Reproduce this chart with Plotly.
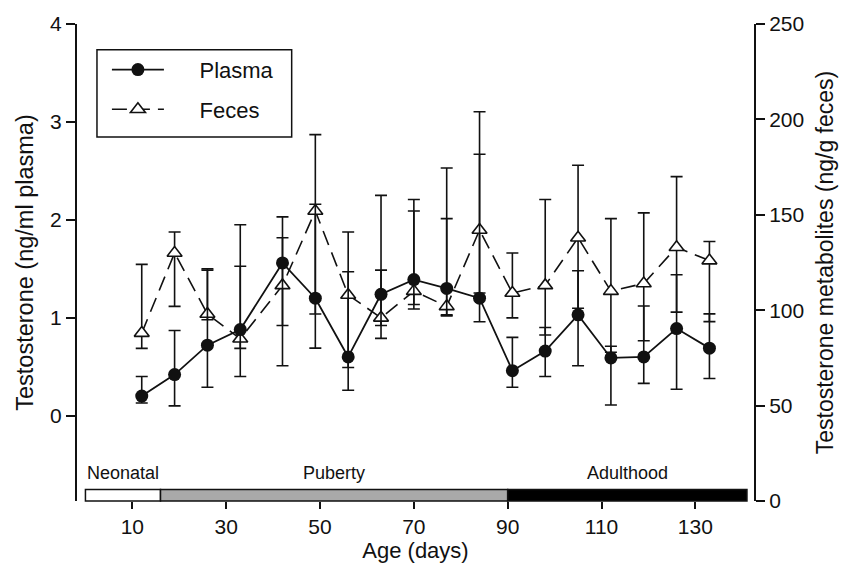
import plotly.graph_objects as go

# ---- data ----
days = [12, 19, 26, 33, 42, 49, 56, 63, 70, 77, 84, 91, 98, 105, 112, 119, 126, 133]

plasma = [0.20, 0.42, 0.72, 0.88, 1.56, 1.20, 0.60, 1.24, 1.39, 1.30, 1.20, 0.46,
          0.66, 1.03, 0.59, 0.60, 0.89, 0.69]
plasma_hi = [0.40, 0.87, 1.50, 1.95, 2.03, 2.16, 1.47, 2.25, 2.09, 2.53, 2.67, 0.80,
             0.90, 1.48, 0.71, 1.12, 1.44, 1.04]
plasma_lo = [0.13, 0.10, 0.29, 0.40, 0.51, 0.69, 0.26, 0.79, 1.09, 1.03, 0.96, 0.29,
             0.40, 0.51, 0.11, 0.33, 0.27, 0.38]

feces = [88, 130, 98, 85, 113, 152, 108, 96, 110, 102, 142, 109,
         113, 138, 110, 114, 133, 126]
feces_hi = [124, 141, 121, 123, 138, 192, 141, 121, 158, 148, 204, 130,
            158, 176, 148, 151, 170, 136]
feces_lo = [80, 102, 95, 80, 92, 98, 70, 92, 103, 97, 109, 96,
            87, 101, 78, 84, 99, 94]

phase_names = ["Neonatal", "Puberty", "Adulthood"]
phase_start = [0, 16, 90]
phase_end = [16, 90, 141]
phase_colors = ["#ffffff", "#a9a9a9", "#000000"]

x_ticks = [10, 30, 50, 70, 90, 110, 130]
left_ticks = [0, 1, 2, 3, 4]
right_ticks = [0, 50, 100, 150, 200, 250]

FONT = "Liberation Sans, Arial, sans-serif"
INK = "#111111"
PAD = "\u00a0" * 5

fig = go.Figure()

fig.add_trace(go.Scatter(
    x=days, y=plasma, yaxis="y2", name=PAD + "Plasma",
    mode="lines+markers",
    line=dict(color=INK, width=1.8),
    marker=dict(symbol="circle", size=13, color=INK),
    error_y=dict(type="data", symmetric=False,
                 array=[h - m for h, m in zip(plasma_hi, plasma)],
                 arrayminus=[m - l for m, l in zip(plasma, plasma_lo)],
                 color=INK, thickness=1.6, width=6),
    legendgroup="p",
))

fig.add_trace(go.Scatter(
    x=days, y=feces, yaxis="y", name=PAD + "Feces",
    mode="lines+markers",
    line=dict(color=INK, width=1.6, dash="15px,8px"),
    marker=dict(symbol="triangle-up", size=13, color="white",
                line=dict(color=INK, width=1.6)),
    error_y=dict(type="data", symmetric=False,
                 array=[h - m for h, m in zip(feces_hi, feces)],
                 arrayminus=[m - l for m, l in zip(feces, feces_lo)],
                 color=INK, thickness=1.6, width=6),
    legendgroup="f",
))

shapes = []
annotations = []
for name, s, e, c in zip(phase_names, phase_start, phase_end, phase_colors):
    shapes.append(dict(type="rect", xref="x", yref="paper", x0=s, x1=e, y0=0.0, y1=0.024,
                       fillcolor=c, line=dict(color=INK, width=1.5), layer="above"))
    annotations.append(dict(x=(s + e) / 2, y=0.058, xref="x", yref="paper",
                            text=name, showarrow=False, xanchor="center", yanchor="middle",
                            font=dict(family=FONT, size=18, color=INK)))

# legend frame
shapes.append(dict(type="rect", xref="paper", yref="paper",
                   x0=0.0295, x1=0.3171, y0=0.763, y1=0.946,
                   line=dict(color=INK, width=1.5), fillcolor="rgba(0,0,0,0)", layer="above"))

fig.update_layout(
    width=846, height=573,
    margin=dict(l=77, r=91, t=20, b=72),
    paper_bgcolor="white", plot_bgcolor="white",
    font=dict(family=FONT, color=INK),
    showlegend=True,
    legend=dict(x=0.0442, y=0.948, xanchor="left", yanchor="top",
                borderwidth=0, bgcolor="rgba(0,0,0,0)",
                font=dict(family=FONT, size=22, color=INK),
                itemwidth=52, traceorder="grouped", tracegroupgap=8),
    xaxis=dict(range=[-1.8, 142.5], showline=False, showgrid=False, zeroline=False,
               ticks="outside", ticklen=7, tickwidth=2, tickcolor=INK,
               tickvals=x_ticks, tickfont=dict(family=FONT, size=21, color=INK),
               title=dict(text="Age (days)", font=dict(family=FONT, size=22, color=INK), standoff=4),
               anchor="y"),
    yaxis=dict(side="right", range=[0, 250], showgrid=False, zeroline=False,
               showline=True, linewidth=2, linecolor=INK,
               ticks="outside", ticklen=9, tickwidth=2, tickcolor=INK,
               tickvals=right_ticks, tickfont=dict(family=FONT, size=21, color=INK),
               title=dict(text="Testosterone metabolites (ng/g feces)",
                          font=dict(family=FONT, size=23, color=INK), standoff=14)),
    yaxis2=dict(side="left", overlaying="y", range=[-0.871, 4.0], showgrid=False, zeroline=False,
                showline=True, linewidth=2, linecolor=INK,
                ticks="outside", ticklen=9, tickwidth=2, tickcolor=INK,
                tickvals=left_ticks, tickfont=dict(family=FONT, size=21, color=INK),
                title=dict(text="Testosterone (ng/ml plasma)",
                           font=dict(family=FONT, size=23.5, color=INK), standoff=10)),
    shapes=shapes,
    annotations=annotations,
)

fig.write_html("out.html")
